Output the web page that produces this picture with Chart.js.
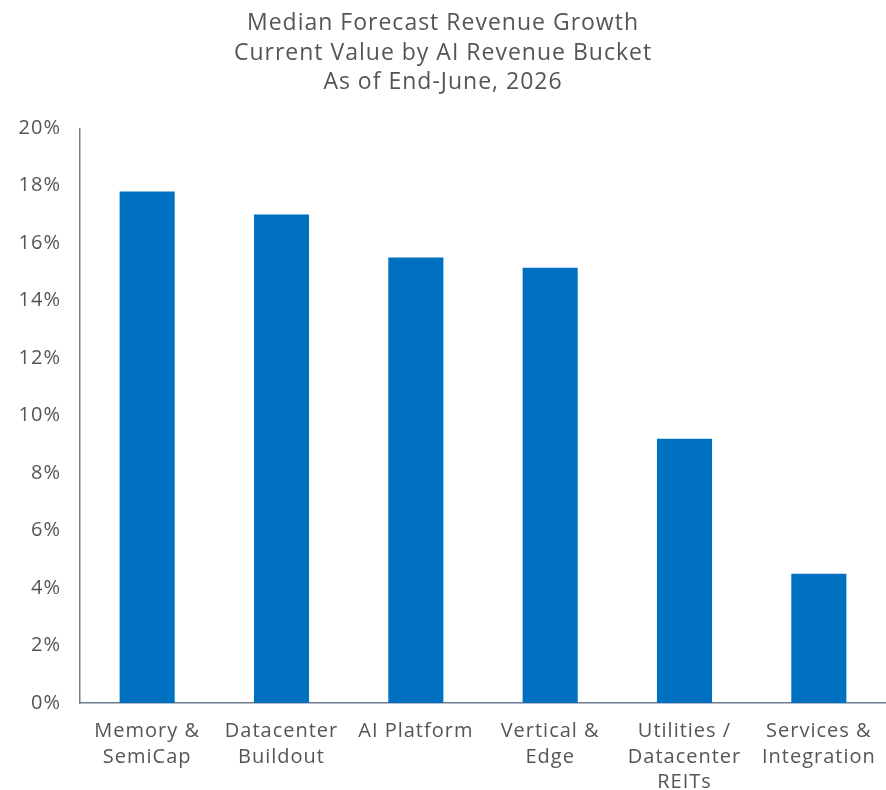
<!DOCTYPE html>
<html>
<head>
<meta charset="utf-8">
<script src="https://cdn.jsdelivr.net/npm/chart.js@4.4.1/dist/chart.umd.min.js"></script>
<style>
  html, body { margin: 0; padding: 0; background: #ffffff; }
  #wrap { width: 886px; height: 790px; }
</style>
</head>
<body>
<div id="wrap"><canvas id="growth"></canvas></div>
<script>
// AI revenue buckets and their median forecast revenue growth (%)
var buckets = [
    ['Memory &', 'SemiCap'],
    ['Datacenter', 'Buildout'],
    ['AI Platform'],
    ['Vertical &', 'Edge'],
    ['Utilities /', 'Datacenter', 'REITs'],
    ['Services &', 'Integration']
];
var growth = [17.8, 17.0, 15.5, 15.15, 9.2, 4.5];
var titleLines = [
    'Median Forecast Revenue Growth',
    'Current Value by AI Revenue Bucket',
    'As of End-June, 2026'
];

var textColor = '#555555';
var axisColor = '#6f7c8f';
var fontName = '"Open Sans", Lato, sans-serif';

// widen the lettering a little (canvas resets this on resize, so set it each pass)
var wideText = {
    id: 'wideText',
    beforeUpdate: function (chart) { chart.ctx.letterSpacing = '1px'; },
    beforeDraw: function (chart) { chart.ctx.letterSpacing = '1px'; }
};

document.addEventListener('DOMContentLoaded', function () {
    var ctx = document.getElementById('growth').getContext('2d');
    var growthChart = new Chart(ctx, {
        type: 'bar',
        data: {
            labels: buckets,
            datasets: [{
                label: 'Median forecast revenue growth',
                data: growth,
                backgroundColor: '#0070c0',
                barPercentage: 0.41,
                categoryPercentage: 1.0
            }]
        },
        plugins: [wideText],
        options: {
            responsive: true,
            maintainAspectRatio: false,
            animation: false,
            layout: { padding: { top: 9, right: 0, left: 0, bottom: 0 } },
            plugins: {
                legend: { display: false },
                tooltip: { enabled: false },
                title: {
                    display: true,
                    text: titleLines,
                    color: textColor,
                    font: { family: fontName, size: 23, weight: 'normal', lineHeight: 1.28 },
                    padding: { top: 0, bottom: 31 }
                }
            },
            scales: {
                x: {
                    grid: { display: false },
                    border: { display: true, color: axisColor, width: 1.5 },
                    ticks: {
                        color: textColor,
                        font: { family: fontName, size: 20, lineHeight: 1.27 },
                        maxRotation: 0,
                        autoSkip: false,
                        padding: 8
                    },
                    afterFit: function (scale) { scale.height = 87; }
                },
                y: {
                    min: 0,
                    max: 20,
                    grid: { display: false },
                    border: { display: true, color: axisColor, width: 1.5 },
                    ticks: {
                        stepSize: 2,
                        color: textColor,
                        font: { family: fontName, size: 20 },
                        padding: 11,
                        callback: function (v) { return v + '%'; }
                    },
                    afterFit: function (scale) { scale.width = 80; }
                }
            }
        }
    });
});
</script>
</body>
</html>
